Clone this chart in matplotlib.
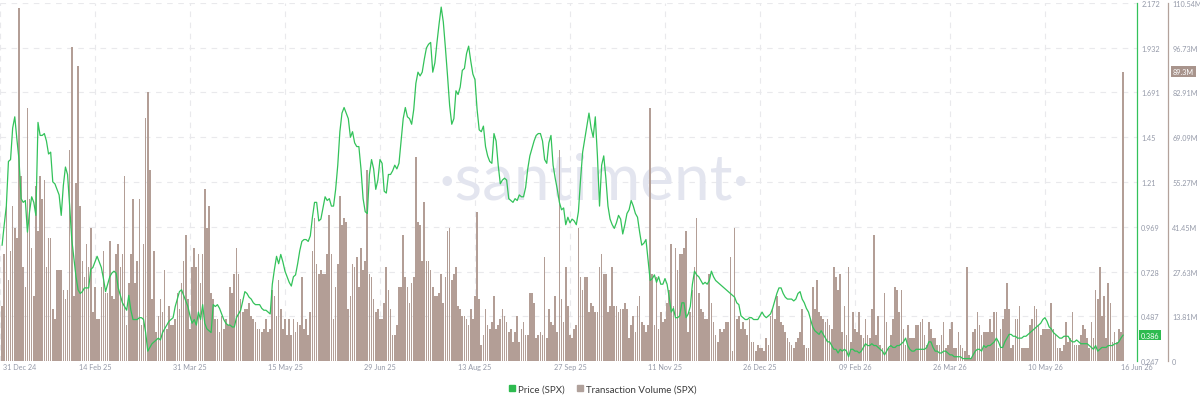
import matplotlib
matplotlib.use("Agg")
import matplotlib.pyplot as plt
import matplotlib.dates as mdates
import numpy as np
import pandas as pd
from matplotlib.lines import Line2D

plt.rcParams['font.family'] = ['Lato', 'DejaVu Sans']

# ---------------- data (daily, millions for volume) ----------------
volume_q1 = [17,33,48,25,34,48,41,38,109,57,
             29,23,78,50,35,20,54,40,57,50,
             56,29,38,38,16,13,28,28,28,22,
             19,22,65,97,20,55,91,48,31,26,
             36,29,41,15,23,13,13,23,34,21,
             21,37,20,19,33,36,29,33,57,11,
             24,33,50,24,31,50,11,36,75,83,
             59,19,34,9,14,19,15,28,10,17,
             11,11,13,21,16,24,31,39,19,10,
             29,35,29,33,24,33,53,41,48,21,
             19,13,13,9,14,10,13,11,23,21,
             27,35,27,19,15,16,16,18,14,13,
             12,10,10,9,10,13,9,10,22,20,
             14,25,16,10,13,8,13,8,13,9,
             12,11]
volume_q2 = [26,10,13,8,15,34,44,30,27,28,
             27,27,33,45,33,13,23,30,51,42,
             44,43,16,20,30,29,32,23,35,28,
             31,59,27,26,19,15,16,13,13,18,
             29,22,16,8,8,11,23,23,39,26,
             23,18,24,26,63,43,42,31,49,31,
             31,28,23,20,20,21,27,18,26,40,
             41,25,27,29,17,16,14,14,13,11,
             16,13,20,46,19,5,8,16,11,10,
             12,20,10,11,13,16,14,12,9,10,
             6,9,14,6,10,12,8,8,21,21,
             18,7,8,9,8,32,7,16,12,11,
             20,9,65,19,12,29,17,8,7,10,
             11,41,26,22,26,26,15,18,17,15,
             15,29]
volume_q3 = [33,27,27,15,17,29,17,17,15,16,
             16,18,16,7,11,14,9,17,20,12,
             11,9,11,78,27,11,26,10,15,
             12,13,18,22,36,17,35,28,33,33,
             35,40,9,15,22,29,44,21,16,15,
             13,13,27,18,12,8,6,10,9,10,
             12,12,32,3,41,13,14,10,12,10,
             8,13,6,6,3,5,4,4,3,7,
             5,14,16,13,20,17,12,11,9,7,
             6,5,4,6,7,9,16,5,4,4,
             13,23,16,25,15,14,13,12,13,11,
             10,29,26,22,27,9,17,8,29,6,
             15,10,9,15,8,7,13,8,7,16,
             39,8,14,5,4,21,12,4,8,13,
             23,22,15]
volume_q4 = [22,10,5,11,7,7,7,11,11,12,
             13,8,5,12,10,7,7,5,5,8,
             12,4,5,10,12,4,4,9,5,4,
             3,29,2,1,9,10,15,11,8,9,
             9,9,13,9,15,15,4,10,13,16,
             24,16,4,5,13,13,17,4,4,4,
             4,11,13,17,16,11,8,10,10,10,
             10,18,10,8,4,4,3,5,12,6,
             7,15,5,5,5,8,11,10,7,4,
             12,7,22,19,29,14,20,7,24,18,
             6,9,6,10,9,89.3]

price_q1 = [0.87,0.98,1.08,1.32,1.33,1.50,1.56,1.44,1.33,1.12,
            1.10,1.11,0.94,1.05,1.13,1.10,1.03,1.53,1.46,1.46,
            1.47,1.43,1.36,1.37,1.21,1.20,1.17,1.14,1.03,1.19,
            1.29,1.25,1.08,0.90,0.80,0.70,0.63,0.61,0.62,0.64,
            0.64,0.64,0.74,0.75,0.78,0.81,0.78,0.75,0.69,0.62,
            0.66,0.70,0.72,0.73,0.72,0.64,0.60,0.56,0.54,0.52,
            0.60,0.52,0.47,0.47,0.47,0.48,0.48,0.47,0.40,0.30,
            0.32,0.34,0.35,0.36,0.37,0.36,0.40,0.42,0.44,0.46,
            0.47,0.48,0.54,0.58,0.62,0.63,0.60,0.57,0.54,0.49,
            0.45,0.47,0.44,0.51,0.47,0.55,0.45,0.42,0.41,0.40,
            0.55,0.54,0.55,0.53,0.50,0.47,0.45,0.44,0.44,0.43,
            0.43,0.48,0.50,0.52,0.57,0.62,0.61,0.59,0.58,0.56,
            0.55,0.55,0.55,0.53,0.52,0.52,0.51,0.50,0.66,0.74,
            0.81,0.77,0.82,0.78,0.73,0.70,0.67,0.65,0.70,0.71,
            0.77,0.84]
price_q2 = [0.89,0.90,0.90,0.89,0.92,1.02,1.10,1.10,1.00,1.01,
            1.07,1.13,1.11,1.12,1.08,1.08,1.17,1.30,1.48,1.58,
            1.61,1.58,1.55,1.45,1.48,1.42,1.40,1.40,1.28,1.12,
            1.05,1.04,1.25,1.33,1.28,1.17,1.22,1.33,1.31,1.16,
            1.15,1.25,1.25,1.27,1.30,1.28,1.31,1.43,1.55,1.61,
            1.56,1.55,1.52,1.60,1.74,1.80,1.78,1.80,1.87,1.93,
            1.95,1.96,1.80,1.85,1.96,2.06,2.15,2.07,1.93,1.78,
            1.62,1.52,1.55,1.70,1.68,1.72,1.81,1.82,1.90,1.94,
            1.86,1.79,1.76,1.60,1.49,1.48,1.51,1.40,1.35,1.32,
            1.31,1.47,1.43,1.30,1.20,1.22,1.23,1.22,1.12,1.11,
            1.10,1.12,1.11,1.14,1.13,1.13,1.18,1.28,1.35,1.39,
            1.43,1.46,1.47,1.47,1.43,1.33,1.31,1.42,1.46,1.30,
            1.23,1.17,1.10,1.06,1.07,0.98,1.02,0.99,1.01,1.00,
            0.98,1.05,1.22,1.37,1.44,1.51,1.58,1.50,1.45,1.56,
            1.35,1.08]
price_q3 = [1.30,1.35,1.23,1.08,1.01,0.98,0.96,0.99,1.03,1.01,
            0.93,0.98,1.04,1.06,1.11,1.08,1.04,1.02,0.94,0.87,
            0.88,0.90,0.79,0.68,0.69,0.71,0.67,0.70,0.66,0.66,
            0.69,0.66,0.59,0.51,0.53,0.48,0.48,0.49,0.56,0.56,
            0.48,0.50,0.54,0.66,0.73,0.71,0.70,0.68,0.66,0.67,
            0.66,0.68,0.73,0.70,0.68,0.67,0.66,0.65,0.64,0.63,
            0.62,0.61,0.60,0.59,0.56,0.55,0.49,0.48,0.47,0.47,
            0.48,0.48,0.47,0.47,0.47,0.49,0.51,0.49,0.48,0.49,
            0.50,0.53,0.57,0.61,0.64,0.64,0.61,0.59,0.58,0.58,
            0.58,0.57,0.58,0.61,0.62,0.58,0.56,0.53,0.51,0.47,
            0.43,0.41,0.40,0.39,0.41,0.39,0.37,0.35,0.35,0.33,
            0.31,0.31,0.29,0.31,0.30,0.31,0.30,0.27,0.31,0.31,
            0.30,0.30,0.29,0.30,0.32,0.34,0.33,0.33,0.34,0.33,
            0.33,0.32,0.31,0.30,0.28,0.30,0.32,0.33,0.32,0.32,
            0.33,0.33]
price_q4 = [0.34,0.35,0.37,0.33,0.31,0.30,0.30,0.31,0.31,0.31,
            0.31,0.31,0.32,0.35,0.35,0.32,0.30,0.30,0.29,0.29,
            0.30,0.30,0.29,0.28,0.28,0.27,0.27,0.27,0.27,0.26,
            0.26,0.26,0.26,0.26,0.28,0.30,0.31,0.31,0.30,0.33,
            0.32,0.33,0.33,0.34,0.35,0.37,0.35,0.32,0.32,0.35,
            0.37,0.39,0.39,0.38,0.38,0.37,0.37,0.37,0.38,0.38,
            0.39,0.40,0.41,0.42,0.43,0.44,0.45,0.47,0.48,0.46,
            0.43,0.42,0.40,0.39,0.38,0.37,0.37,0.38,0.38,0.38,
            0.36,0.35,0.35,0.36,0.35,0.34,0.34,0.34,0.34,0.33,
            0.32,0.31,0.33,0.30,0.31,0.32,0.32,0.32,0.33,0.33,
            0.33,0.34,0.34,0.35,0.37,0.386]

price_ticks = [0.247, 0.487, 0.728, 0.969, 1.21, 1.45, 1.691, 1.932, 2.172]
price_tick_labels = ["0.247", "0.487", "0.728", "0.969", "1.21", "1.45", "1.691", "1.932", "2.172"]
volume_ticks_m = [0, 13.81, 27.63, 41.45, 55.27, 69.09, 82.91, 96.73, 110.54]
volume_tick_labels = ["0", "13.81M", "27.63M", "41.45M", "55.27M", "69.09M", "82.91M", "96.73M", "110.54M"]
date_ticks = ["2024-12-31", "2025-02-14", "2025-03-31", "2025-05-15", "2025-06-29",
              "2025-08-13", "2025-09-27", "2025-11-11", "2025-12-26", "2026-02-09",
              "2026-03-26", "2026-05-10"]
last_date = "2026-06-16"

# ---------------- styling ----------------
GREEN = "#33c25a"
BAR = "#b39e96"
BROWN_AX = "#b3a29b"
GREY = "#9499a8"
GRID = "#e9e9ec"

volume = np.array(volume_q1 + volume_q2 + volume_q3 + volume_q4) * 1e6
price = np.array(price_q1 + price_q2 + price_q3 + price_q4)
n = min(len(volume), len(price))
volume, price = volume[:n], price[:n]
dates = pd.date_range(end=last_date, periods=n)

W, H = 1200, 406
fig = plt.figure(figsize=(W / 100, H / 100), dpi=100)
ax = fig.add_axes([0, 44 / H, 1137 / W, 358 / H])

x0 = mdates.date2num(pd.Timestamp(date_ticks[0]))
ax.set_xlim(x0, x0 + 1137 / 2.111)
ax.set_ylim(0, volume_ticks_m[-1] * 1e6)

ax.bar(dates, volume, width=0.78, color=BAR, linewidth=0, zorder=2)

ax.text(0.522, 0.505, "·santiment·", transform=ax.transAxes, ha="center", va="center",
        fontsize=46, color="#e3e5ef", zorder=1)

ax.set_xticks([mdates.date2num(pd.Timestamp(d)) for d in date_ticks])
ax.set_xticklabels([])
ax.tick_params(axis="x", length=0)
ax.grid(True, ls=(0, (5, 5)), color=GRID, lw=0.8, zorder=0)
ax.set_axisbelow(True)

for i, d in enumerate(date_ticks):
    ts = pd.Timestamp(d)
    ax.annotate(ts.strftime("%d %b %y"), xy=(mdates.date2num(ts), 0),
                xycoords=("data", "axes fraction"), xytext=(3 if i == 0 else 0, -6),
                textcoords="offset pixels", ha="left" if i == 0 else "center",
                va="center", fontsize=5.2, color=GREY)
ts = pd.Timestamp(last_date)
ax.annotate(ts.strftime("%d %b %y"), xy=(mdates.date2num(ts), 0),
            xycoords=("data", "axes fraction"), xytext=(-2, -6),
            textcoords="offset pixels", ha="left", va="center", fontsize=5.2, color=GREY)

ax2 = ax.twinx()
ax2.plot(dates, price, color=GREEN, lw=0.9, zorder=3)
ax2.set_ylim(price_ticks[0], price_ticks[-1])
for s in ["left", "top", "bottom"]:
    ax2.spines[s].set_visible(False)
ax2.spines["right"].set_color(GREEN)
ax2.spines["right"].set_linewidth(0.9)
ax2.set_yticks(price_ticks)
ax2.set_yticklabels(price_tick_labels)
ax2.tick_params(axis="y", length=0, pad=3, labelsize=5.2, labelcolor=GREY)

# volume axis on the far right (after twinx, which moves ticks left)
for s in ["left", "top", "bottom"]:
    ax.spines[s].set_visible(False)
ax.spines["right"].set_visible(True)
ax.spines["right"].set_position(("outward", 31 * 72 / 100))
ax.spines["right"].set_color(BROWN_AX)
ax.spines["right"].set_linewidth(0.9)
ax.yaxis.set_ticks_position("right")
ax.set_yticks([v * 1e6 for v in volume_ticks_m])
ax.set_yticklabels(volume_tick_labels)
ax.tick_params(axis="y", which="both", left=False, labelleft=False, right=False,
               labelright=True, length=0, pad=3, labelsize=5.2, labelcolor=GREY)

ax2.annotate("%.3f" % price[-1], xy=(1, price[-1]), xycoords=("axes fraction", "data"),
             xytext=(4, 0), textcoords="offset pixels", ha="left", va="center",
             fontsize=5.2, color="white",
             bbox=dict(boxstyle="square,pad=0.25", fc="#2dbb4f", ec="none"))
ax.annotate("%.1fM" % (volume[-1] / 1e6), xy=(1, volume[-1]),
            xycoords=("axes fraction", "data"),
            xytext=(36, 0), textcoords="offset pixels", ha="left", va="center",
            fontsize=5.2, color="white", annotation_clip=False,
            bbox=dict(boxstyle="square,pad=0.25", fc="#a8948c", ec="none"))

handles = [Line2D([], [], marker="s", ls="none", color="#2dbb4f", markersize=5),
           Line2D([], [], marker="s", ls="none", color="#b0a19b", markersize=5)]
fig.legend(handles, ["Price (SPX)", "Transaction Volume (SPX)"], loc="center",
           bbox_to_anchor=(0.502, 1 - 390 / H), ncol=2, frameon=False, fontsize=7,
           handletextpad=0.2, columnspacing=1.2, labelcolor="#3c3c3c", handlelength=0.8)

fig.savefig("out.png", dpi=100)
